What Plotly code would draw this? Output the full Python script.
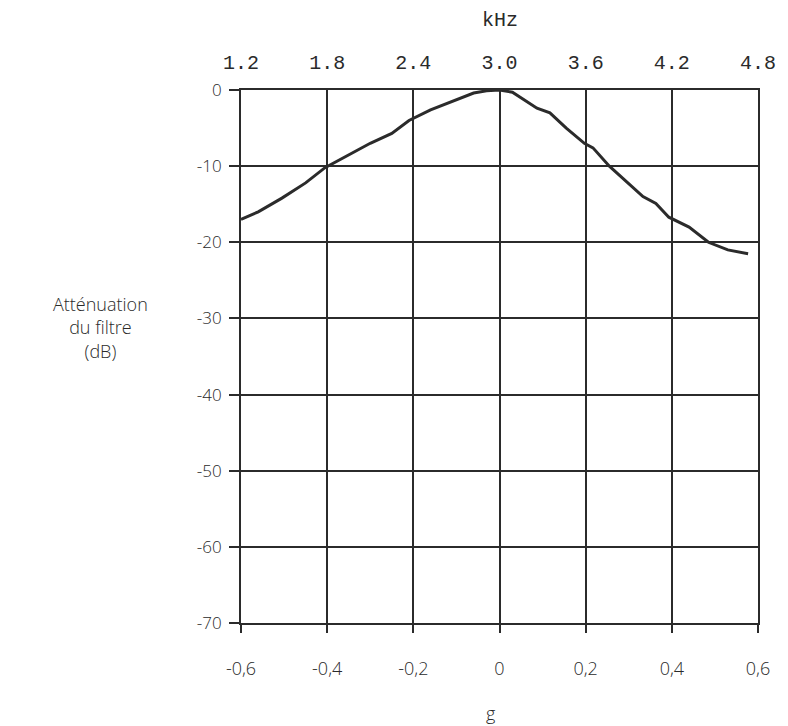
import plotly.graph_objects as go

# Data
g_vals = [-0.6, -0.56, -0.505, -0.45, -0.405, -0.35, -0.3, -0.25, -0.21, -0.16, -0.115,
          -0.06, -0.03, 0.0, 0.03, 0.087, 0.117, 0.155, 0.197, 0.217, 0.255, 0.333,
          0.363, 0.393, 0.44, 0.485, 0.53, 0.577]
att_db = [-17.0, -16.0, -14.2, -12.2, -10.2, -8.5, -7.0, -5.7, -4.0, -2.6, -1.6,
          -0.4, -0.1, 0.0, -0.3, -2.4, -3.0, -5.0, -7.0, -7.6, -10.0, -14.0,
          -14.9, -16.7, -18.0, -20.0, -21.0, -21.5]

g_ticks = [-0.6, -0.4, -0.2, 0.0, 0.2, 0.4, 0.6]
g_ticktext = ["-0,6", "-0,4", "-0,2", "0", "0,2", "0,4", "0,6"]
khz_ticks = [1.2, 1.8, 2.4, 3.0, 3.6, 4.2, 4.8]
khz_ticktext = ["1.2", "1.8", "2.4", "3.0", "3.6", "4.2", "4.8"]
db_ticks = [0, -10, -20, -30, -40, -50, -60, -70]
db_ticktext = ["0", "-10", "-20", "-30", "-40", "-50", "-60", "-70"]

LINE = "#2b2b2b"
TEXT = "#2a2a2a"
SANS = "Open Sans, Lato, sans-serif"
MONO = "Liberation Mono, DejaVu Sans Mono, monospace"

fig = go.Figure()
fig.add_trace(go.Scatter(x=g_vals, y=att_db, mode="lines",
                         line=dict(color=LINE, width=3), hoverinfo="skip",
                         showlegend=False))
# invisible trace to anchor the top (kHz) axis
fig.add_trace(go.Scatter(x=khz_ticks, y=[0] * len(khz_ticks), xaxis="x2",
                         mode="markers", marker=dict(opacity=0), hoverinfo="skip",
                         showlegend=False))

fig.update_layout(
    width=788, height=726,
    margin=dict(l=241, r=25, t=90, b=103),
    paper_bgcolor="white", plot_bgcolor="white",
    xaxis=dict(range=[-0.6, 0.6], tickvals=g_ticks, ticktext=g_ticktext,
               showgrid=True, gridcolor=LINE, gridwidth=2,
               showline=True, linecolor=LINE, linewidth=2, mirror=True,
               ticks="outside", ticklen=8, tickwidth=2, tickcolor=LINE,
               ticklabelstandoff=20,
               tickfont=dict(family=SANS, size=18, color=TEXT, weight=300),
               zeroline=False, fixedrange=True),
    xaxis2=dict(range=[1.2, 4.8], tickvals=khz_ticks, ticktext=khz_ticktext,
                overlaying="x", side="top", showgrid=False, showline=False,
                ticks="", zeroline=False, ticklabelstandoff=16,
                tickfont=dict(family=MONO, size=20, color=TEXT)),
    yaxis=dict(range=[-70, 0], tickvals=db_ticks, ticktext=db_ticktext,
               showgrid=True, gridcolor=LINE, gridwidth=2,
               showline=True, linecolor=LINE, linewidth=2, mirror=True,
               ticks="outside", ticklen=10, tickwidth=2, tickcolor=LINE,
               ticklabelstandoff=4,
               tickfont=dict(family=SANS, size=17, color=TEXT, weight=300),
               zeroline=False, fixedrange=True),
    annotations=[
        dict(text="kHz", xref="paper", yref="paper", x=0.5, y=1.0, yshift=56,
             xanchor="center", yanchor="bottom", showarrow=False,
             font=dict(family=MONO, size=20, color=TEXT)),
        dict(text="g", xref="paper", yref="paper", x=0.5, y=0.0, xshift=-9,
             yshift=-76, xanchor="center", yanchor="top", showarrow=False,
             font=dict(family=SANS, size=18, color=TEXT, weight=300)),
        dict(text="Atténuation<br>du filtre<br>(dB)", xref="paper", yref="paper",
             x=0, xshift=-141, y=0.555, xanchor="center", yanchor="middle",
             showarrow=False, align="center",
             font=dict(family=SANS, size=18, color=TEXT, weight=300)),
    ],
)

fig.write_html("out.html")
